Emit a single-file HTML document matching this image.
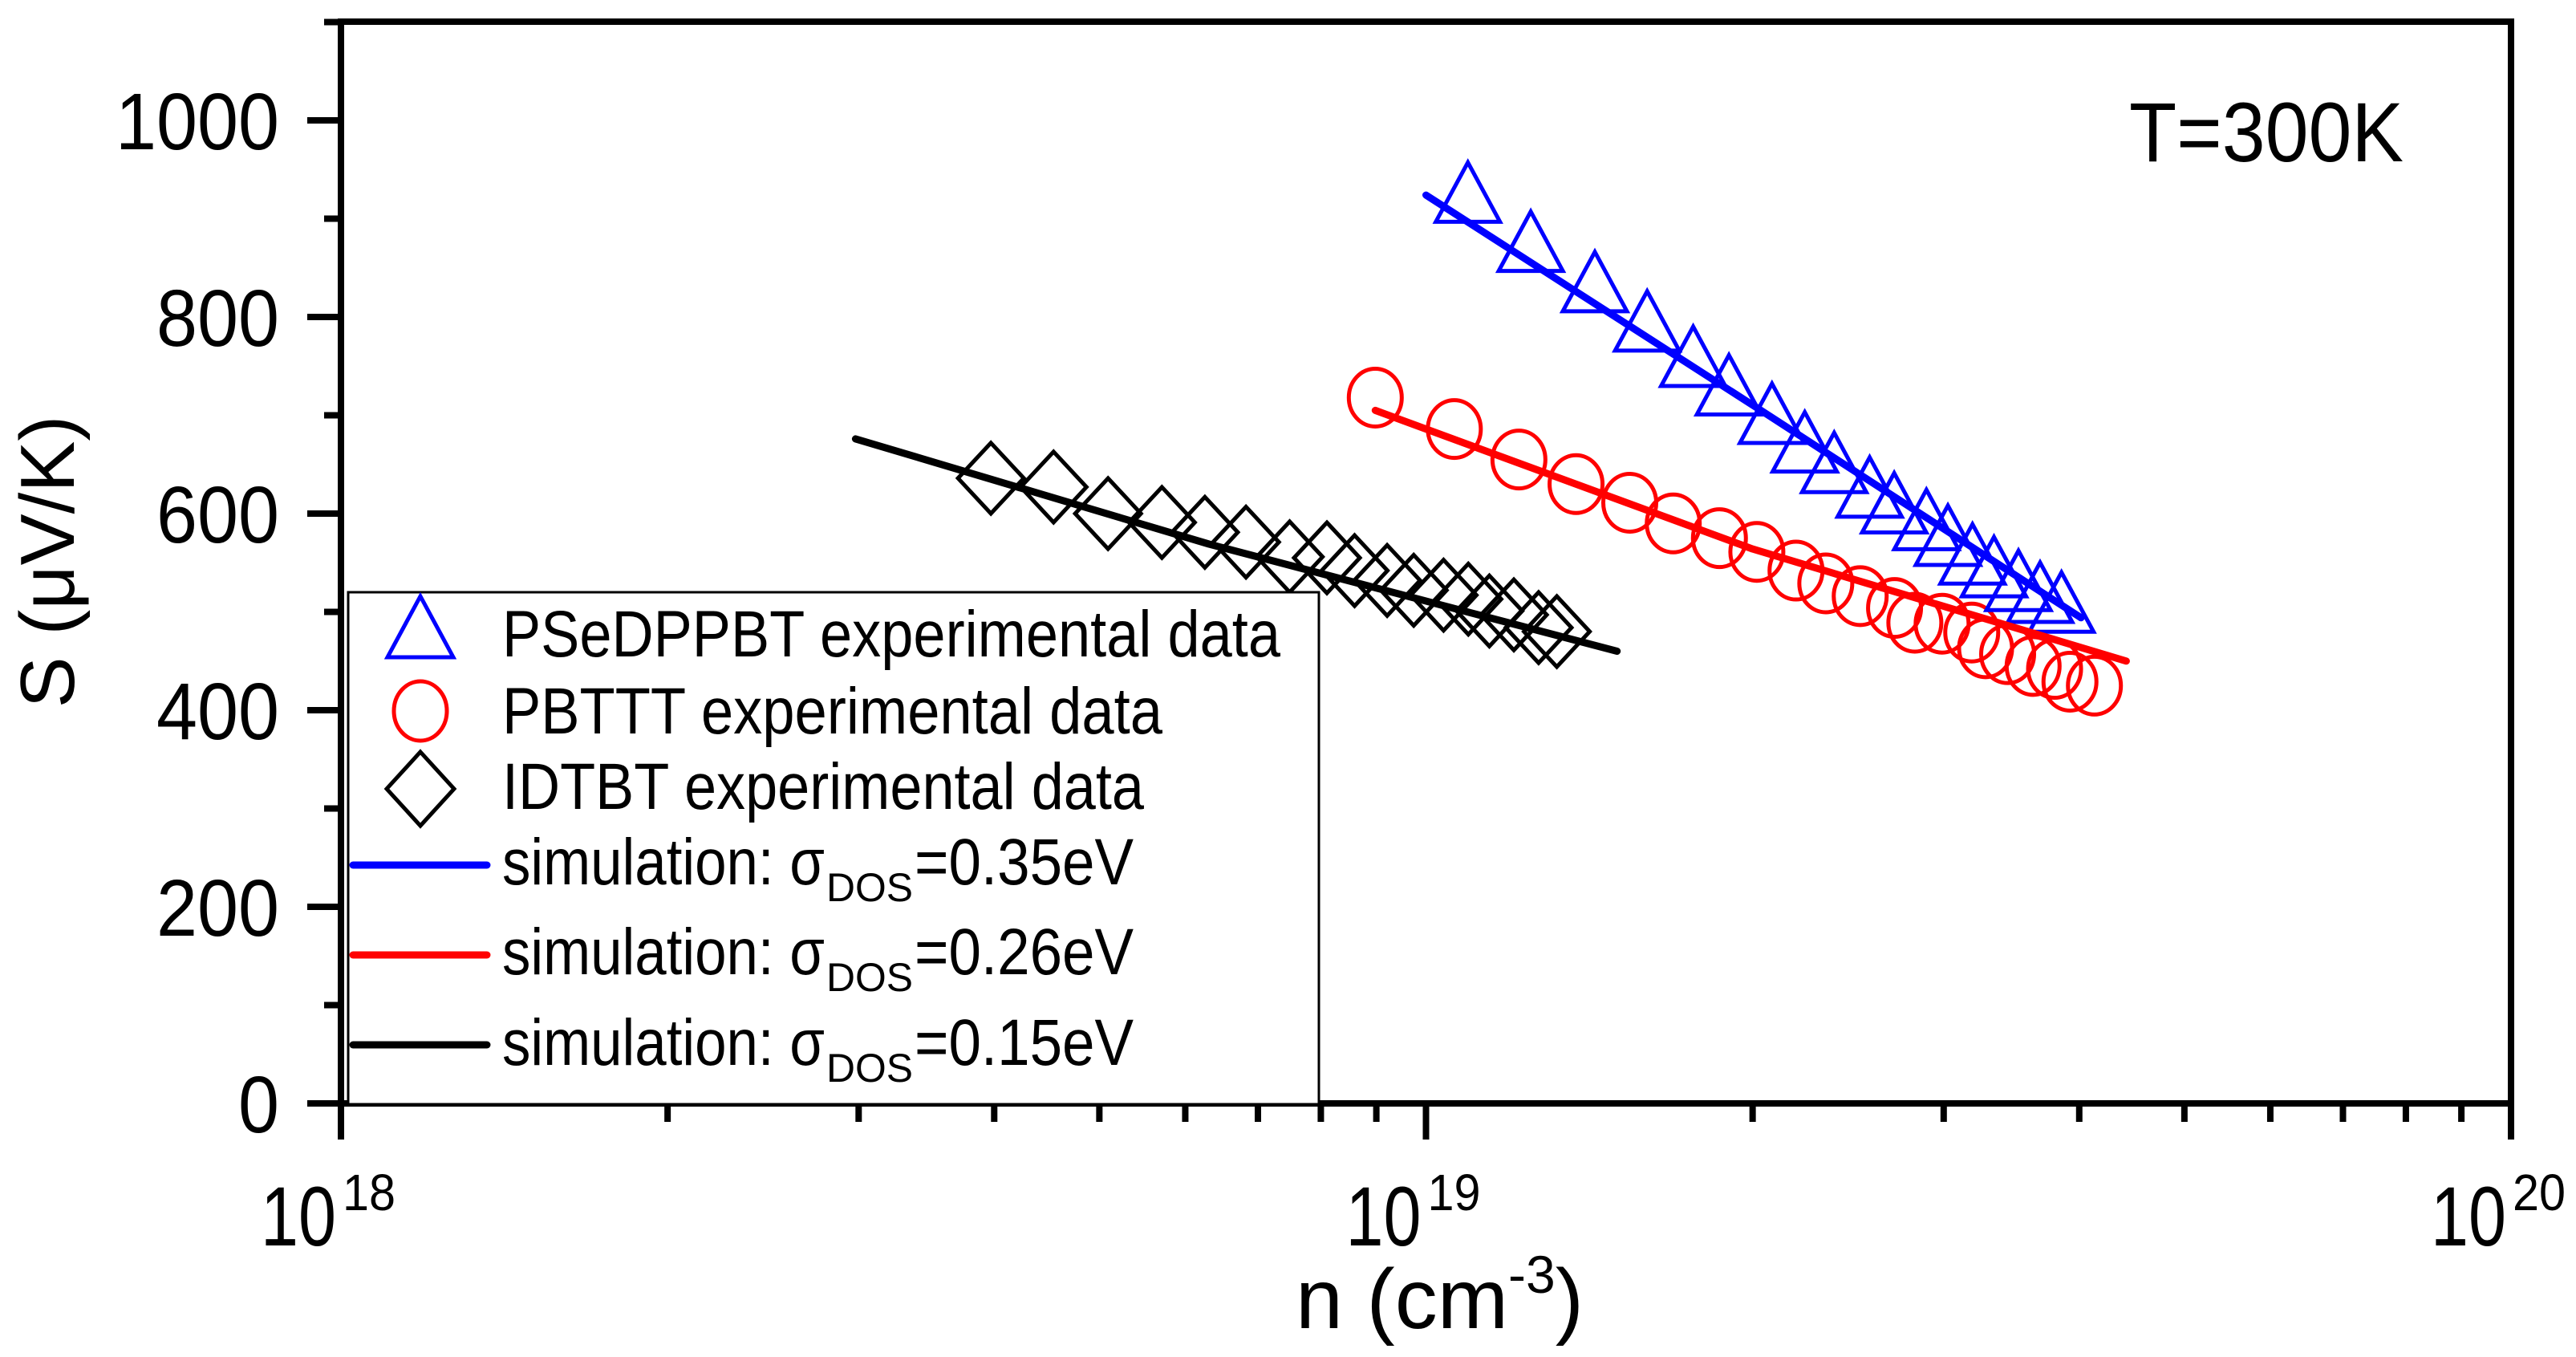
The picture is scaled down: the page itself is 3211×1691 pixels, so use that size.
<!DOCTYPE html>
<html>
<head>
<meta charset="utf-8">
<style>
  html,body{margin:0;padding:0;background:#fff;}
  svg{display:block;font-family:"Liberation Sans",Arial,sans-serif;}
</style>
</head>
<body>
<svg id="chart" xmlns="http://www.w3.org/2000/svg" width="3211" height="1691" viewBox="0 0 3211 1691">
  <rect x="0" y="0" width="3211" height="1691" fill="#fff"/>
  <g id="frame"></g>
  <g id="ticks"></g>
  <g id="series"></g>

  <text x="2654" y="201" font-size="105" textLength="342" lengthAdjust="spacingAndGlyphs">T=300K</text>

  <text transform="translate(92,700) rotate(-90)" text-anchor="middle" font-size="96">S (μV/K)</text>

  <text x="1615" y="1655" font-size="106">n (cm<tspan dy="-44" font-size="66">-3</tspan><tspan dy="44">)</tspan></text>

  <g>
    <rect x="434" y="738" width="1210" height="638" fill="#fff" stroke="#000" stroke-width="3"/>
    <polygon points="524,743 565,819 483,819" fill="none" stroke="#0000ff" stroke-width="5"/>
    <text x="626" y="818" font-size="82" textLength="970" lengthAdjust="spacingAndGlyphs">PSeDPPBT experimental data</text>
    <ellipse cx="524" cy="886" rx="33" ry="37" fill="none" stroke="#ff0000" stroke-width="5"/>
    <text x="626" y="914" font-size="82" textLength="823" lengthAdjust="spacingAndGlyphs">PBTTT experimental data</text>
    <polygon points="524,937 566,983 524,1029 482,983" fill="none" stroke="#000" stroke-width="5"/>
    <text x="626" y="1008" font-size="82" textLength="800" lengthAdjust="spacingAndGlyphs">IDTBT experimental data</text>

    <line x1="440" y1="1078" x2="607" y2="1078" stroke="#0000ff" stroke-width="9" stroke-linecap="round"/>
    <text font-size="82"><tspan x="626" y="1102" textLength="402" lengthAdjust="spacingAndGlyphs">simulation: σ</tspan></text>
    <text x="1030" y="1123" font-size="50" textLength="108" lengthAdjust="spacingAndGlyphs">DOS</text>
    <text x="1140" y="1102" font-size="82" textLength="273" lengthAdjust="spacingAndGlyphs">=0.35eV</text>

    <line x1="440" y1="1190" x2="607" y2="1190" stroke="#ff0000" stroke-width="9" stroke-linecap="round"/>
    <text font-size="82"><tspan x="626" y="1214" textLength="402" lengthAdjust="spacingAndGlyphs">simulation: σ</tspan></text>
    <text x="1030" y="1235" font-size="50" textLength="108" lengthAdjust="spacingAndGlyphs">DOS</text>
    <text x="1140" y="1214" font-size="82" textLength="273" lengthAdjust="spacingAndGlyphs">=0.26eV</text>

    <line x1="440" y1="1302" x2="607" y2="1302" stroke="#000" stroke-width="9" stroke-linecap="round"/>
    <text font-size="82"><tspan x="626" y="1327" textLength="402" lengthAdjust="spacingAndGlyphs">simulation: σ</tspan></text>
    <text x="1030" y="1348" font-size="50" textLength="108" lengthAdjust="spacingAndGlyphs">DOS</text>
    <text x="1140" y="1327" font-size="82" textLength="273" lengthAdjust="spacingAndGlyphs">=0.15eV</text>
  </g>
</svg>

<script>
// ---- data (n in units of 1e19 cm^-3, S in µV/K) ----
var yTickValues = [0, 200, 400, 600, 800, 1000];
var yTickLabels = ["0", "200", "400", "600", "800", "1000"];
var xDecades = [18, 19, 20];
var xDecadeLabels = ["18", "19", "20"];

var psedN = [1.093,1.249,1.431,1.599,1.763,1.902,2.084,2.234,2.378,2.564,2.701,2.892,3.027,3.189,3.338,3.516,3.681,3.852];
var psedS = [927,877,836,796,760,731,702,673,652,627,611,594,578,559,546,532,520,510];

var pbtttN = [0.898,1.062,1.218,1.375,1.541,1.690,1.864,2.018,2.193,2.336,2.513,2.703,2.822,2.990,3.184,3.279,3.436,3.627,3.796,3.922,4.131];
var pbtttS = [718,686,655,630,611,590,575,561,542,529,516,504,489,488,479,463,457,445,442,429,425];

var idtbtN = [0.3972,0.4537,0.5093,0.5710,0.6255,0.6825,0.7488,0.8104,0.8594,0.9209,0.9743,1.038,1.094,1.144,1.205,1.270,1.320];
var idtbtS = [636,627,600,591,581,571,556,555,542,532,522,517,513,501,497,484,480];

var simBlueN = [1.000, 2.022, 4.015];
var simBlueS = [924, 707, 494];
var simRedN = [0.898, 2.000, 4.420];
var simRedS = [705, 564, 450];
var simBlackN = [0.298, 0.631, 1.500];
var simBlackS = [676, 569, 460];

// ---- axes ----
var X0 = 425, XDEC = 1352.5, Y0 = 1375, YK = 1.225;
function xs(n19){ return X0 + (Math.log10(n19) + 19 - 18) * XDEC; }
function xsLog(lg){ return X0 + (lg - 18) * XDEC; }
function ys(s){ return Y0 - s * YK; }

var NS = "http://www.w3.org/2000/svg";
function mk(tag, attrs, parent){
  var e = document.createElementNS(NS, tag);
  for (var k in attrs) e.setAttribute(k, attrs[k]);
  parent.appendChild(e);
  return e;
}
var frame = document.getElementById("frame");
var ticks = document.getElementById("ticks");
var series = document.getElementById("series");
var svg = document.getElementById("chart");

var fr = mk("path", {d:"M425,1375 L425,27 L3130,27 L3130,1375 Z", fill:"none", stroke:"#000", "stroke-width":"8"}, frame);



for (var v = 0; v <= 1100; v += 100) {
  var major = (v % 200 === 0);
  var t = mk("line", {x1: major ? 383 : 404, x2: 425, y1: ys(v), y2: ys(v), stroke:"#000", "stroke-width":"8"}, ticks);
  
  
}
for (var i = 0; i < yTickValues.length; i++) {
  var lb = mk("text", {x: 348, y: ys(yTickValues[i]) + 36, "text-anchor":"end", "font-size":"100", textLength: String(yTickLabels[i].length * 51), lengthAdjust: "spacingAndGlyphs"}, svg);
  lb.textContent = yTickLabels[i];
  
  
}

for (var d = 18; d <= 20; d++) {
  var mt = mk("line", {x1: xsLog(d), x2: xsLog(d), y1: 1375, y2: 1420, stroke:"#000", "stroke-width":"8"}, ticks);
  
  
  if (d < 20) {
    for (var m = 2; m <= 9; m++) {
      var xm = xsLog(d + Math.log10(m));
      var mn = mk("line", {x1: xm, x2: xm, y1: 1375, y2: 1398, stroke:"#000", "stroke-width":"8"}, ticks);
      
      
    }
  }
}
for (var j = 0; j < xDecades.length; j++) {
  var bx = xsLog(xDecades[j]) - 100;
  var xl = mk("text", {x: bx, y: 1552, "font-size":"105", textLength: "94", lengthAdjust: "spacingAndGlyphs"}, svg);
  xl.textContent = "10";
  
  
  var sp = mk("text", {x: bx + 102, y: 1508, "font-size":"64", textLength: "66", lengthAdjust: "spacingAndGlyphs"}, svg);
  sp.textContent = xDecadeLabels[j];
  
  
}

function drawLine(N, S, color, name){
  var pts = [];
  for (var i = 0; i < N.length; i++) pts.push(xs(N[i]).toFixed(1) + "," + ys(S[i]).toFixed(1));
  var p = mk("polyline", {points: pts.join(" "), fill:"none", stroke: color, "stroke-width":"9", "stroke-linecap":"round", "stroke-linejoin":"round"}, series);
  
  
}

for (var a = 0; a < idtbtN.length; a++) {
  var cx = xs(idtbtN[a]), cy = ys(idtbtS[a]);
  var dm = mk("polygon", {points: cx+","+(cy-44)+" "+(cx+41)+","+cy+" "+cx+","+(cy+44)+" "+(cx-41)+","+cy, fill:"none", stroke:"#000", "stroke-width":"5"}, series);
  
  
}
for (var b = 0; b < pbtttN.length; b++) {
  var ci = mk("ellipse", {cx: xs(pbtttN[b]), cy: ys(pbtttS[b]), rx: 33, ry: 36, fill:"none", stroke:"#ff0000", "stroke-width":"5"}, series);
  
  
}
for (var c = 0; c < psedN.length; c++) {
  var tx = xs(psedN[c]), ty = ys(psedS[c]);
  var tr = mk("polygon", {points: tx+","+(ty-37)+" "+(tx+40)+","+(ty+37)+" "+(tx-40)+","+(ty+37), fill:"none", stroke:"#0000ff", "stroke-width":"5"}, series);
  
  
}
drawLine(simBlackN, simBlackS, "#000", "simulation-line-015");
drawLine(simRedN, simRedS, "#ff0000", "simulation-line-026");
drawLine(simBlueN, simBlueS, "#0000ff", "simulation-line-035");
</script>
</body>
</html>
